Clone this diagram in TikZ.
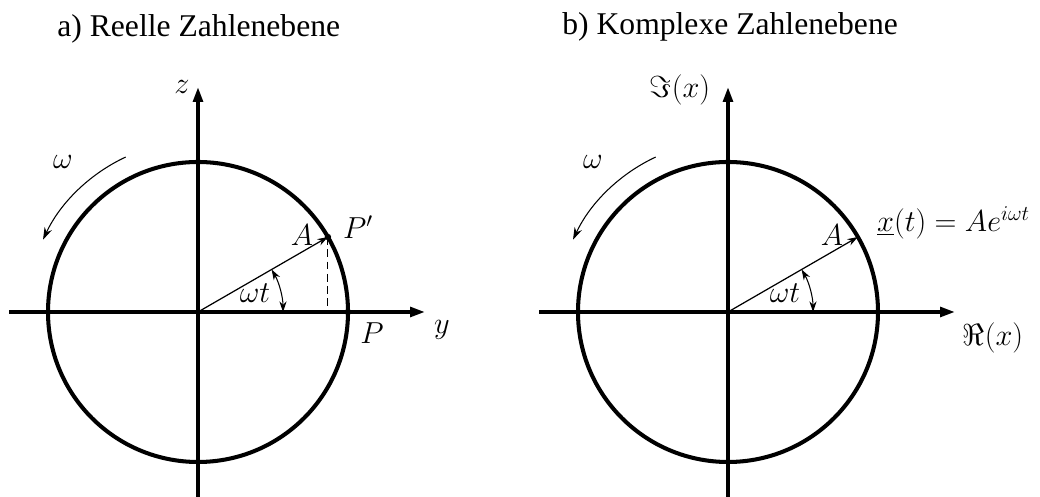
\documentclass[tikz,border=0pt]{standalone}
\usepackage{fontspec}
\setmainfont{Liberation Serif}
\usetikzlibrary{arrows.meta,positioning}

\begin{document}
\begin{tikzpicture}[
  font=\fontsize{17.28}{21}\selectfont,
  axis/.style={line width=2pt,-{Triangle[length=8.5pt,width=5.5pt]}},
  rim/.style={line width=2.3pt},
  vec/.style={line width=0.7pt,-{Stealth[length=6pt,width=4pt]}},
  turn/.style={line width=0.6pt},
  lab/.style={inner sep=1pt},
  title/.style={font=\fontsize{18}{21}\selectfont,anchor=base west,inner sep=0pt}
]
\useasboundingbox (0,0) rectangle (20.8,9.94);

\node[title] (ta) at (1.14,9.2) {a) Reelle Zahlenebene};
\node[title] (tb) at (11.24,9.24) {b) Komplexe Zahlenebene};

% a) reelle Ebene
\begin{scope}[shift={(3.96,3.7)}]
  \coordinate (Oa) at (0,0);
  \coordinate (yl) at (-3.78,0);
  \coordinate (yr) at (4.54,0);
  \coordinate (zb) at (0,-3.8);
  \coordinate (zt) at (0,4.5);
  \coordinate (Pqa) at (30:3);
  \coordinate (Pa) at (3,0);
  \coordinate (Fa) at (Pqa |- Oa);
  \draw[rim] (Oa) circle (3);
  \draw[axis] (yl) -- (yr);
  \draw[axis] (zb) -- (zt);
  \draw[vec] (Oa) -- (Pqa);
  \draw[turn,dash pattern=on 4.5pt off 2.5pt] (Pqa) -- (Fa);
  \fill (Pqa) circle (0.065);
  \fill (Pa) circle (0.065);
  \draw[turn,{Stealth[length=6pt,width=4pt]}-{Stealth[length=6pt,width=4pt]}] (0:1.7) arc (0:30:1.7);
  \draw[turn,-{Stealth[length=7pt,width=4.5pt]}] (115:3.42) arc (115:155:3.42);
  \node[lab] (za) at (-0.32,4.5) {$z$};
  \node[lab] (ya) at (4.88,-0.36) {$y$};
  \node[lab] (wa) at (-2.7,3.0) {$\omega$};
  \node[lab] (Aa) at (2.08,1.54) {$A$};
  \node[lab] (Pqla) at (3.2,1.7) {$P'$};
  \node[lab] (Pla) at (3.48,-0.42) {$P$};
  \node[lab] (wta) at (1.14,0.38) {$\omega t$};
\end{scope}

% b) komplexe Ebene
\begin{scope}[shift={(14.56,3.7)}]
  \coordinate (Ob) at (0,0);
  \coordinate (rl) at (-3.78,0);
  \coordinate (rr) at (4.54,0);
  \coordinate (ib) at (0,-3.8);
  \coordinate (it) at (0,4.5);
  \coordinate (Xb) at (30:3);
  \draw[rim] (Ob) circle (3);
  \draw[axis] (rl) -- (rr);
  \draw[axis] (ib) -- (it);
  \draw[vec] (Ob) -- (Xb);
  \draw[turn,{Stealth[length=6pt,width=4pt]}-{Stealth[length=6pt,width=4pt]}] (0:1.7) arc (0:30:1.7);
  \draw[turn,-{Stealth[length=7pt,width=4.5pt]}] (115:3.42) arc (115:155:3.42);
  \node[lab] (imb) at (-0.96,4.44) {$\Im(x)$};
  \node[lab] (reb) at (5.3,-0.52) {$\Re(x)$};
  \node[lab] (wb) at (-2.7,3.0) {$\omega$};
  \node[lab] (Ab) at (2.08,1.54) {$A$};
  \node[lab,anchor=west] (xb) at (2.94,1.78) {$\underline{x}(t)=Ae^{i\omega t}$};
  \node[lab] (wtb) at (1.14,0.38) {$\omega t$};
\end{scope}

\end{tikzpicture}
\end{document}
